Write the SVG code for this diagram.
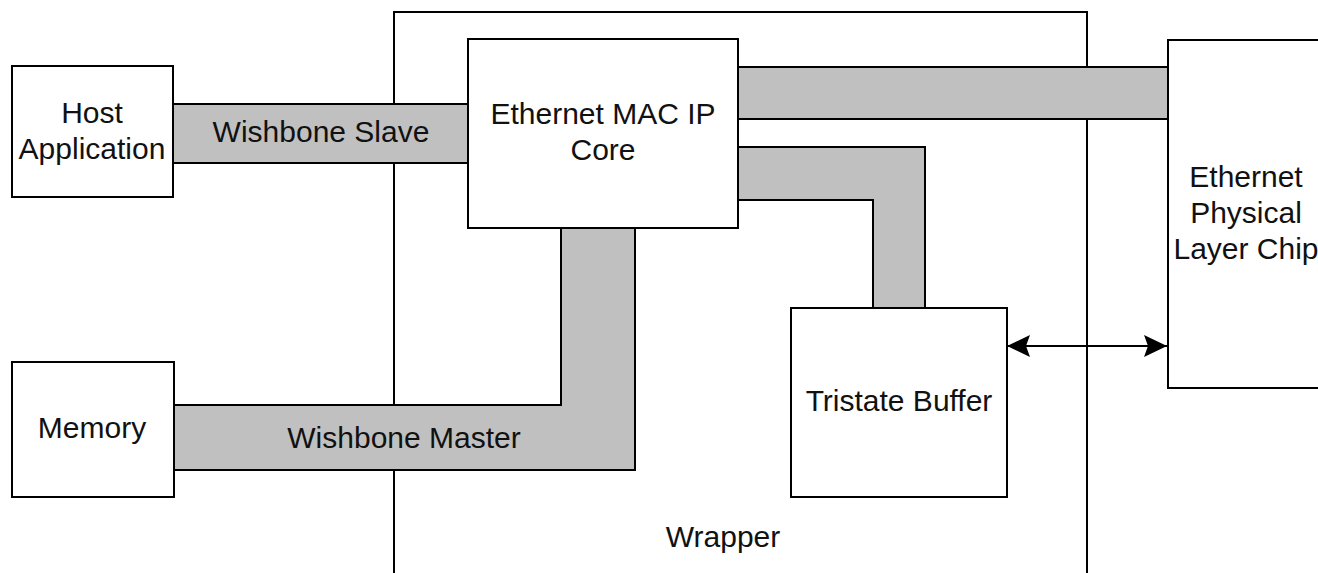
<svg xmlns="http://www.w3.org/2000/svg" width="1318" height="573" viewBox="0 0 1318 573">
<style>
.box{fill:#fff;stroke:#000;stroke-width:2}
.band{fill:#c0c0c0;stroke:#000;stroke-width:2;stroke-linejoin:miter}
.wrap{fill:none;stroke:#000;stroke-width:2}
.lbl{font-family:"Liberation Sans",Arial,sans-serif;font-size:30px;text-anchor:middle;fill:#111}
.arrow{stroke:#000;stroke-width:2;fill:none}
</style>
<defs>
<marker id="ah" markerUnits="userSpaceOnUse" viewBox="0 0 23 22" markerWidth="23" markerHeight="22" refX="23" refY="11" orient="auto-start-reverse">
<path d="M0,0 L23,11 L0,22 L4,11 Z" fill="#000"/>
</marker>
</defs>
<rect width="1318" height="573" fill="#fff"/>
<g id="wrapper">
<rect class="wrap" x="394" y="12" width="693" height="600"/>
<text class="lbl" x="723" y="547">Wrapper</text>
</g>
<g id="connectors">
<polygon class="band" points="173,104 469,104 469,163 173,163"/>
<text class="lbl" x="321" y="142">Wishbone Slave</text>
<polygon class="band" points="737,67 1168,67 1168,119 737,119"/>
<polygon class="band" points="737,147 925,147 925,308 873,308 873,200 737,200"/>
<polygon class="band" points="174,405 561,405 561,228 635,228 635,470 174,470"/>
<text class="lbl" x="404" y="448">Wishbone Master</text>
<line class="arrow" x1="1007" y1="346" x2="1167" y2="346" marker-start="url(#ah)" marker-end="url(#ah)"/>
</g>
<g id="host">
<rect class="box" x="12" y="66" width="161" height="131"/>
<text class="lbl" x="92" y="123">Host</text>
<text class="lbl" x="92" y="159">Application</text>
</g>
<g id="mac">
<rect class="box" x="468" y="39" width="270" height="189"/>
<text class="lbl" x="603" y="124">Ethernet MAC IP</text>
<text class="lbl" x="603" y="160">Core</text>
</g>
<g id="memory">
<rect class="box" x="12" y="362" width="162" height="135"/>
<text class="lbl" x="92" y="438">Memory</text>
</g>
<g id="tristate">
<rect class="box" x="791" y="308" width="216" height="189"/>
<text class="lbl" x="899" y="411">Tristate Buffer</text>
</g>
<g id="phy">
<rect class="box" x="1168" y="40" width="160" height="348"/>
<text class="lbl" x="1246" y="187">Ethernet</text>
<text class="lbl" x="1246" y="223">Physical</text>
<text class="lbl" x="1246" y="259">Layer Chip</text>
</g>
</svg>
